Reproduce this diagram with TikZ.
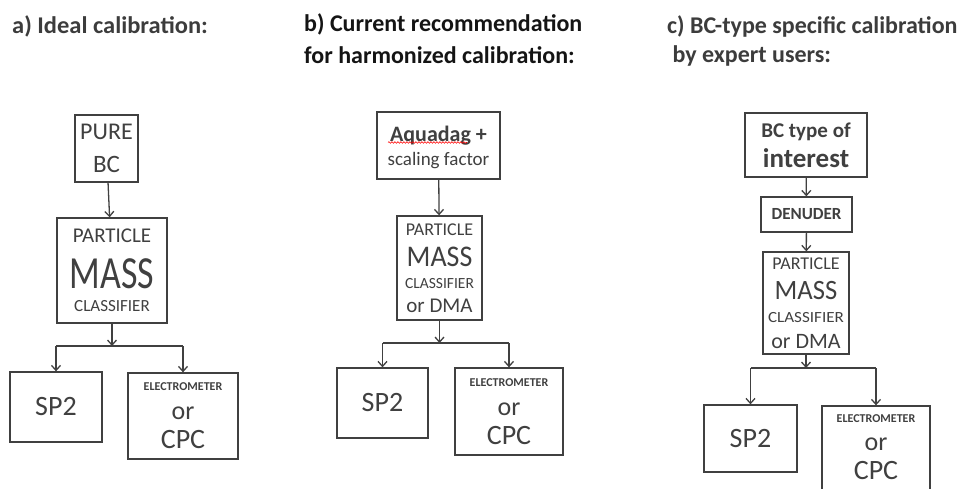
\documentclass[tikz,border=0pt]{standalone}
\usepackage{fontspec}
\setmainfont{Carlito}
\usetikzlibrary{arrows.meta,decorations.pathmorphing}
\definecolor{ink}{HTML}{404040}
\definecolor{tgray}{HTML}{3C3C3C}
\definecolor{tblack}{HTML}{141414}
\newcommand{\fs}[1]{\fontsize{#1}{0}\selectfont}
\tikzset{
  txt/.style={inner sep=0pt, align=center, text=ink, font={\fontsize{10}{0}\selectfont\lineskip=0pt\relax}},
  box/.style={txt, draw=ink, line width=1.3pt, fill=white},
  link/.style={draw=ink, line width=1.3pt},
  arr/.style={link, -{Straight Barb[length=5pt,width=9pt,line width=1.3pt]}},
  title/.style={anchor=west, inner sep=0pt, font=\bfseries\fontsize{24}{24}\selectfont, align=left}
}
\begin{document}
\begin{tikzpicture}[x=1pt,y=-1pt]
\useasboundingbox (0,0) rectangle (959,489);
\begin{scope}
\clip (0,0) rectangle (959,489);
% titles
\node[title, text=tgray] (ta) at (12,26) {\scalebox{1.02}[1]{a) Ideal calibration:}};
\node[title, text=tblack] (tb1) at (304,24) {b) Current recommendation};
\node[title, text=tblack] (tb2) at (304,55) {for harmonized calibration:};
\node[title, text=tgray] (tc1) at (667,26) {c) BC-type specific calibration};
\node[title, text=tgray] (tc2) at (667,56) {\ by expert users:};

% panel a
\node[box, minimum width=63pt, minimum height=67pt] (apure) at (106.5,148.5)
  {\fs{24}PURE\\[16pt]\fs{25}BC};
\node[box, minimum width=110pt, minimum height=105pt] (amass) at (112,270.5)
  {\fs{21}PARTICLE\\[16pt]\fs{46}\scalebox{0.78}[1]{MASS}\\[12pt]\fs{17}CLASSIFIER};
\node[box, minimum width=92pt, minimum height=70pt] (asp) at (56,407)
  {\fs{28}SP2};
\node[box, minimum width=110pt, minimum height=86pt] (ael) at (183,416)
  {\bfseries\fs{12}ELECTROMETER\\[16pt]\fs{26}or\\[11pt]\fs{28}CPC};
\coordinate (aj) at (112,346);
\draw[arr] (apure) -- (amass);
\draw[arr] (amass) -- (aj);
\draw[link] (asp.north |- aj) -- (ael.north |- aj);
\draw[arr] (asp.north |- aj) -- (asp.north);
\draw[arr] (ael.north |- aj) -- (ael.north);

% panel b
\node[box, minimum width=123pt, minimum height=67pt] (baq) at (438.5,145.5) {};
\node[txt] (baqt) at (438.5,147)
  {\bfseries\fs{22}Aquadag +\\[7pt]\fs{19}scaling factor};
\draw[red, line width=0.6pt, decorate, decoration={snake, amplitude=0.8pt, segment length=3pt}]
  (388,142.5) -- (467,142.5);
\node[box, minimum width=85pt, minimum height=104pt] (bmass) at (439.5,268)
  {\fs{18}PARTICLE\\[12pt]\fs{30}\scalebox{0.93}[1]{MASS}\\[12pt]\fs{15.5}CLASSIFIER\\[10pt]\fs{21}or DMA};
\node[box, minimum width=91pt, minimum height=70pt] (bsp) at (382.5,403)
  {\fs{28}SP2};
\node[box, minimum width=108pt, minimum height=87pt] (bel) at (509,411.5)
  {\bfseries\fs{12}ELECTROMETER\\[16pt]\fs{26}or\\[11pt]\fs{28}CPC};
\coordinate (bj) at (439.5,343);
\draw[arr] (baq) -- (bmass);
\draw[arr] (bmass) -- (bj);
\draw[link] (bsp.north |- bj) -- (bel.north |- bj);
\draw[arr] (bsp.north |- bj) -- (bsp.north);
\draw[arr] (bel.north |- bj) -- (bel.north);

% panel c
\node[box, minimum width=122pt, minimum height=64pt] (cbc) at (806,145)
  {\bfseries\fs{21}BC type of\\[8pt]\bfseries\fs{27}interest};
\node[box, minimum width=91pt, minimum height=35pt] (cden) at (806.5,214.5)
  {\bfseries\fs{17}DENUDER};
\node[box, minimum width=86pt, minimum height=102pt] (cmass) at (806,303)
  {\fs{18}PARTICLE\\[12pt]\fs{28}\scalebox{0.95}[1]{MASS}\\[13pt]\fs{15.5}\scalebox{1.1}[1]{CLASSIFIER}\\[11pt]\fs{22}or DMA};
\node[box, minimum width=93pt, minimum height=67pt] (csp) at (750.5,438.5)
  {\fs{28}SP2};
\node[box, minimum width=108pt, minimum height=100pt] (cel) at (876,456) {};
\node[txt] (celt) at (876,447.5)
  {\bfseries\fs{12}ELECTROMETER\\[15pt]\fs{26}or\\[11pt]\fs{28}CPC};
\coordinate (cj) at (806,368);
\draw[arr] (cbc) -- (cden);
\draw[arr] (cden) -- (cmass);
\draw[arr] (cmass) -- (cj);
\draw[link] (csp.north |- cj) -- (cel.north |- cj);
\draw[arr] (csp.north |- cj) -- (csp.north);
\draw[arr] (cel.north |- cj) -- (cel.north);
\end{scope}
\end{tikzpicture}
\end{document}
